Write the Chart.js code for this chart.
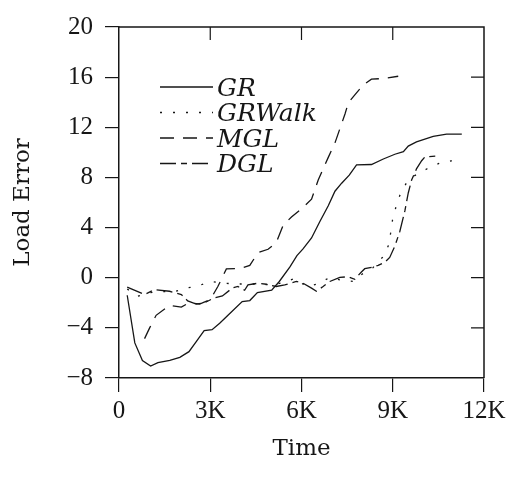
<!DOCTYPE html>
<html>
<head>
<meta charset="utf-8">
<script src="https://cdn.jsdelivr.net/npm/chart.js@4"></script>
<style>
  body { margin: 0; background: #fff; }
  canvas { display: block; }
</style>
</head>
<body>
<canvas id="loadChart" width="511" height="479"></canvas>
<script>
// time in K steps, load error values
var grTime = [0.27, 0.52, 0.77, 1.04, 1.28, 1.67, 2.0, 2.3, 2.54, 2.8, 3.06, 3.31, 3.6, 4.05, 4.3, 4.55, 5.02, 5.27, 5.62, 5.85, 6.05, 6.33, 6.6, 6.88, 7.1, 7.32, 7.57, 7.81, 8.3, 8.69, 9.07, 9.35, 9.51, 9.78, 10.33, 10.77, 11.27];
var grLoad = [-1.4, -5.2, -6.6, -7.05, -6.77, -6.6, -6.35, -5.9, -5.1, -4.22, -4.15, -3.63, -2.95, -1.9, -1.82, -1.18, -1.0, -0.3, 0.86, 1.76, 2.3, 3.17, 4.46, 5.74, 6.9, 7.54, 8.18, 9.0, 9.03, 9.47, 9.85, 10.06, 10.5, 10.83, 11.27, 11.45, 11.45];

var walkTime = [0.27, 0.62, 1.0, 1.33, 1.77, 2.21, 2.59, 3.03, 3.5, 4.0, 4.5, 5.0, 5.4, 5.78, 6.16, 6.53, 6.93, 7.26, 7.7, 8.0, 8.35, 8.66, 8.85, 8.93, 8.99, 9.1, 9.23, 9.43, 9.69, 10.13, 10.52, 10.94];
var walkLoad = [-0.9, -1.48, -1.2, -1.08, -1.16, -0.83, -0.65, -0.31, -0.45, -0.5, -0.5, -0.57, -0.4, -0.05, -0.7, -0.5, 0.02, -0.18, -0.3, 0.3, 0.8, 1.62, 2.52, 3.55, 4.57, 5.6, 6.55, 7.48, 8.1, 8.69, 9.12, 9.33];

var mglTime = [0.84, 1.0, 1.22, 1.5, 1.67, 2.05, 2.3, 2.65, 3.0, 3.25, 3.53, 3.97, 4.3, 4.57, 4.9, 5.17, 5.4, 5.67, 6.0, 6.33, 6.55, 6.88, 7.1, 7.43, 7.54, 7.76, 8.03, 8.3, 8.69, 9.18];
var mglLoad = [-4.86, -4.04, -3.0, -2.5, -2.2, -2.35, -2.0, -2.1, -1.75, -0.7, 0.7, 0.73, 0.98, 2.0, 2.27, 2.8, 4.2, 4.84, 5.5, 6.26, 7.8, 9.6, 10.75, 13.06, 13.96, 14.6, 15.38, 15.84, 15.89, 16.07];

var dglTime = [0.27, 0.84, 1.17, 1.66, 2.05, 2.26, 2.54, 2.81, 3.14, 3.4, 3.74, 3.91, 4.13, 4.24, 4.57, 4.85, 5.17, 5.45, 5.83, 6.05, 6.33, 6.49, 6.71, 6.93, 7.26, 7.53, 7.75, 7.97, 8.08, 8.35, 8.52, 8.74, 8.9, 9.07, 9.23, 9.4, 9.51, 9.62, 9.78, 9.95, 10.06, 10.5];
var dglLoad = [-0.75, -1.34, -0.95, -1.08, -1.34, -1.85, -2.1, -2.0, -1.6, -1.45, -0.8, -0.7, -1.0, -0.57, -0.44, -0.52, -0.7, -0.57, -0.3, -0.44, -0.83, -1.08, -0.7, -0.3, 0.02, 0.08, -0.13, 0.46, 0.72, 0.85, 0.98, 1.23, 1.62, 2.52, 3.67, 5.35, 6.76, 7.79, 8.68, 9.33, 9.64, 9.72];

var seriesNames = ['GR', 'GRWalk', 'MGL', 'DGL'];
var xTicks = [0, 3000, 6000, 9000, 12000];
var yTicks = [-8, -4, 0, 4, 8, 12, 16, 20];

var ink = '#161616';

function toPoints(times, loads) {
    return times.map(function (t, i) { return { x: t * 1000, y: loads[i] }; });
}

function lineSet(label, times, loads, dash) {
    return {
        label: label,
        data: toPoints(times, loads),
        borderColor: ink,
        borderWidth: 1.3,
        borderDash: dash,
        pointRadius: 0,
        tension: 0,
        fill: false
    };
}

// box on top/right with inward ticks, and the hand-drawn legend
var framePlugin = {
    id: 'frame',
    afterDraw: function (chart) {
        var ctx = chart.ctx;
        var a = chart.chartArea;
        var xs = chart.scales.x, ys = chart.scales.y;
        ctx.save();
        ctx.strokeStyle = ink;
        ctx.lineWidth = 1.5;
        ctx.beginPath();
        ctx.moveTo(a.left, a.top);
        ctx.lineTo(a.right, a.top);
        ctx.lineTo(a.right, a.bottom);
        ctx.stroke();
        ctx.lineWidth = 1.2;
        ctx.beginPath();
        xTicks.slice(1, -1).forEach(function (v) {
            var px = xs.getPixelForValue(v);
            ctx.moveTo(px, a.top);
            ctx.lineTo(px, a.top + 13);
        });
        yTicks.slice(1, -1).forEach(function (v) {
            var py = ys.getPixelForValue(v);
            ctx.moveTo(a.right, py);
            ctx.lineTo(a.right - 13, py);
        });
        ctx.stroke();

        // legend
        ctx.font = 'italic 25px "DejaVu Serif"';
        ctx.fillStyle = ink;
        ctx.textBaseline = 'middle';
        chart.data.datasets.forEach(function (ds, i) {
            var y = 87 + i * 25.5;
            ctx.setLineDash(ds.borderDash || []);
            ctx.lineWidth = 1.3;
            ctx.beginPath();
            ctx.moveTo(160, y);
            ctx.lineTo(213, y);
            ctx.stroke();
            ctx.setLineDash([]);
            ctx.fillText(ds.label, 217, y + 2);
        });
        ctx.restore();
    }
};

var tickFont = { family: '"Liberation Serif"', size: 25 };
var titleFont = { family: '"DejaVu Serif"', size: 23 };

var ctx = document.getElementById('loadChart').getContext('2d');
var loadChart = new Chart(ctx, {
    type: 'line',
    data: {
        datasets: [
            lineSet(seriesNames[0], grTime, grLoad, []),
            lineSet(seriesNames[1], walkTime, walkLoad, [2, 11]),
            lineSet(seriesNames[2], mglTime, mglLoad, [14, 9]),
            lineSet(seriesNames[3], dglTime, dglLoad, [16, 5, 6, 5])
        ]
    },
    options: {
        responsive: false,
        animation: false,
        layout: { padding: { top: 15, right: 27, left: 0, bottom: 0 } },
        plugins: {
            legend: { display: false },
            tooltip: { enabled: false }
        },
        scales: {
            x: {
                type: 'linear',
                min: 0,
                max: 12000,
                afterBuildTicks: function (scale) {
                    scale.ticks = xTicks.map(function (v) { return { value: v }; });
                },
                afterFit: function (scale) { scale.height = 101; },
                ticks: {
                    color: ink,
                    font: tickFont,
                    padding: 4,
                    maxRotation: 0,
                    callback: function (v) { return v === 0 ? '0' : (v / 1000) + 'K'; }
                },
                grid: { drawOnChartArea: false, drawTicks: true, tickLength: 14, color: ink, lineWidth: 1.2 },
                border: { display: true, color: ink, width: 1.5 },
                title: { display: true, text: 'Time', color: ink, font: titleFont, padding: { top: 0, bottom: 16 } }
            },
            y: {
                min: -8,
                max: 20,
                afterBuildTicks: function (scale) {
                    scale.ticks = yTicks.map(function (v) { return { value: v }; });
                },
                afterFit: function (scale) { scale.width = 119; },
                ticks: {
                    color: ink,
                    font: tickFont,
                    padding: 12,
                    callback: function (v) { return v < 0 ? '\u2212' + Math.abs(v) : String(v); }
                },
                grid: { drawOnChartArea: false, drawTicks: true, tickLength: 14, color: ink, lineWidth: 1.2 },
                border: { display: true, color: ink, width: 1.5 },
                title: { display: true, text: 'Load Error', color: ink, font: titleFont, padding: { top: 9, bottom: 0 } }
            }
        }
    },
    plugins: [framePlugin]
});
</script>
</body>
</html>
